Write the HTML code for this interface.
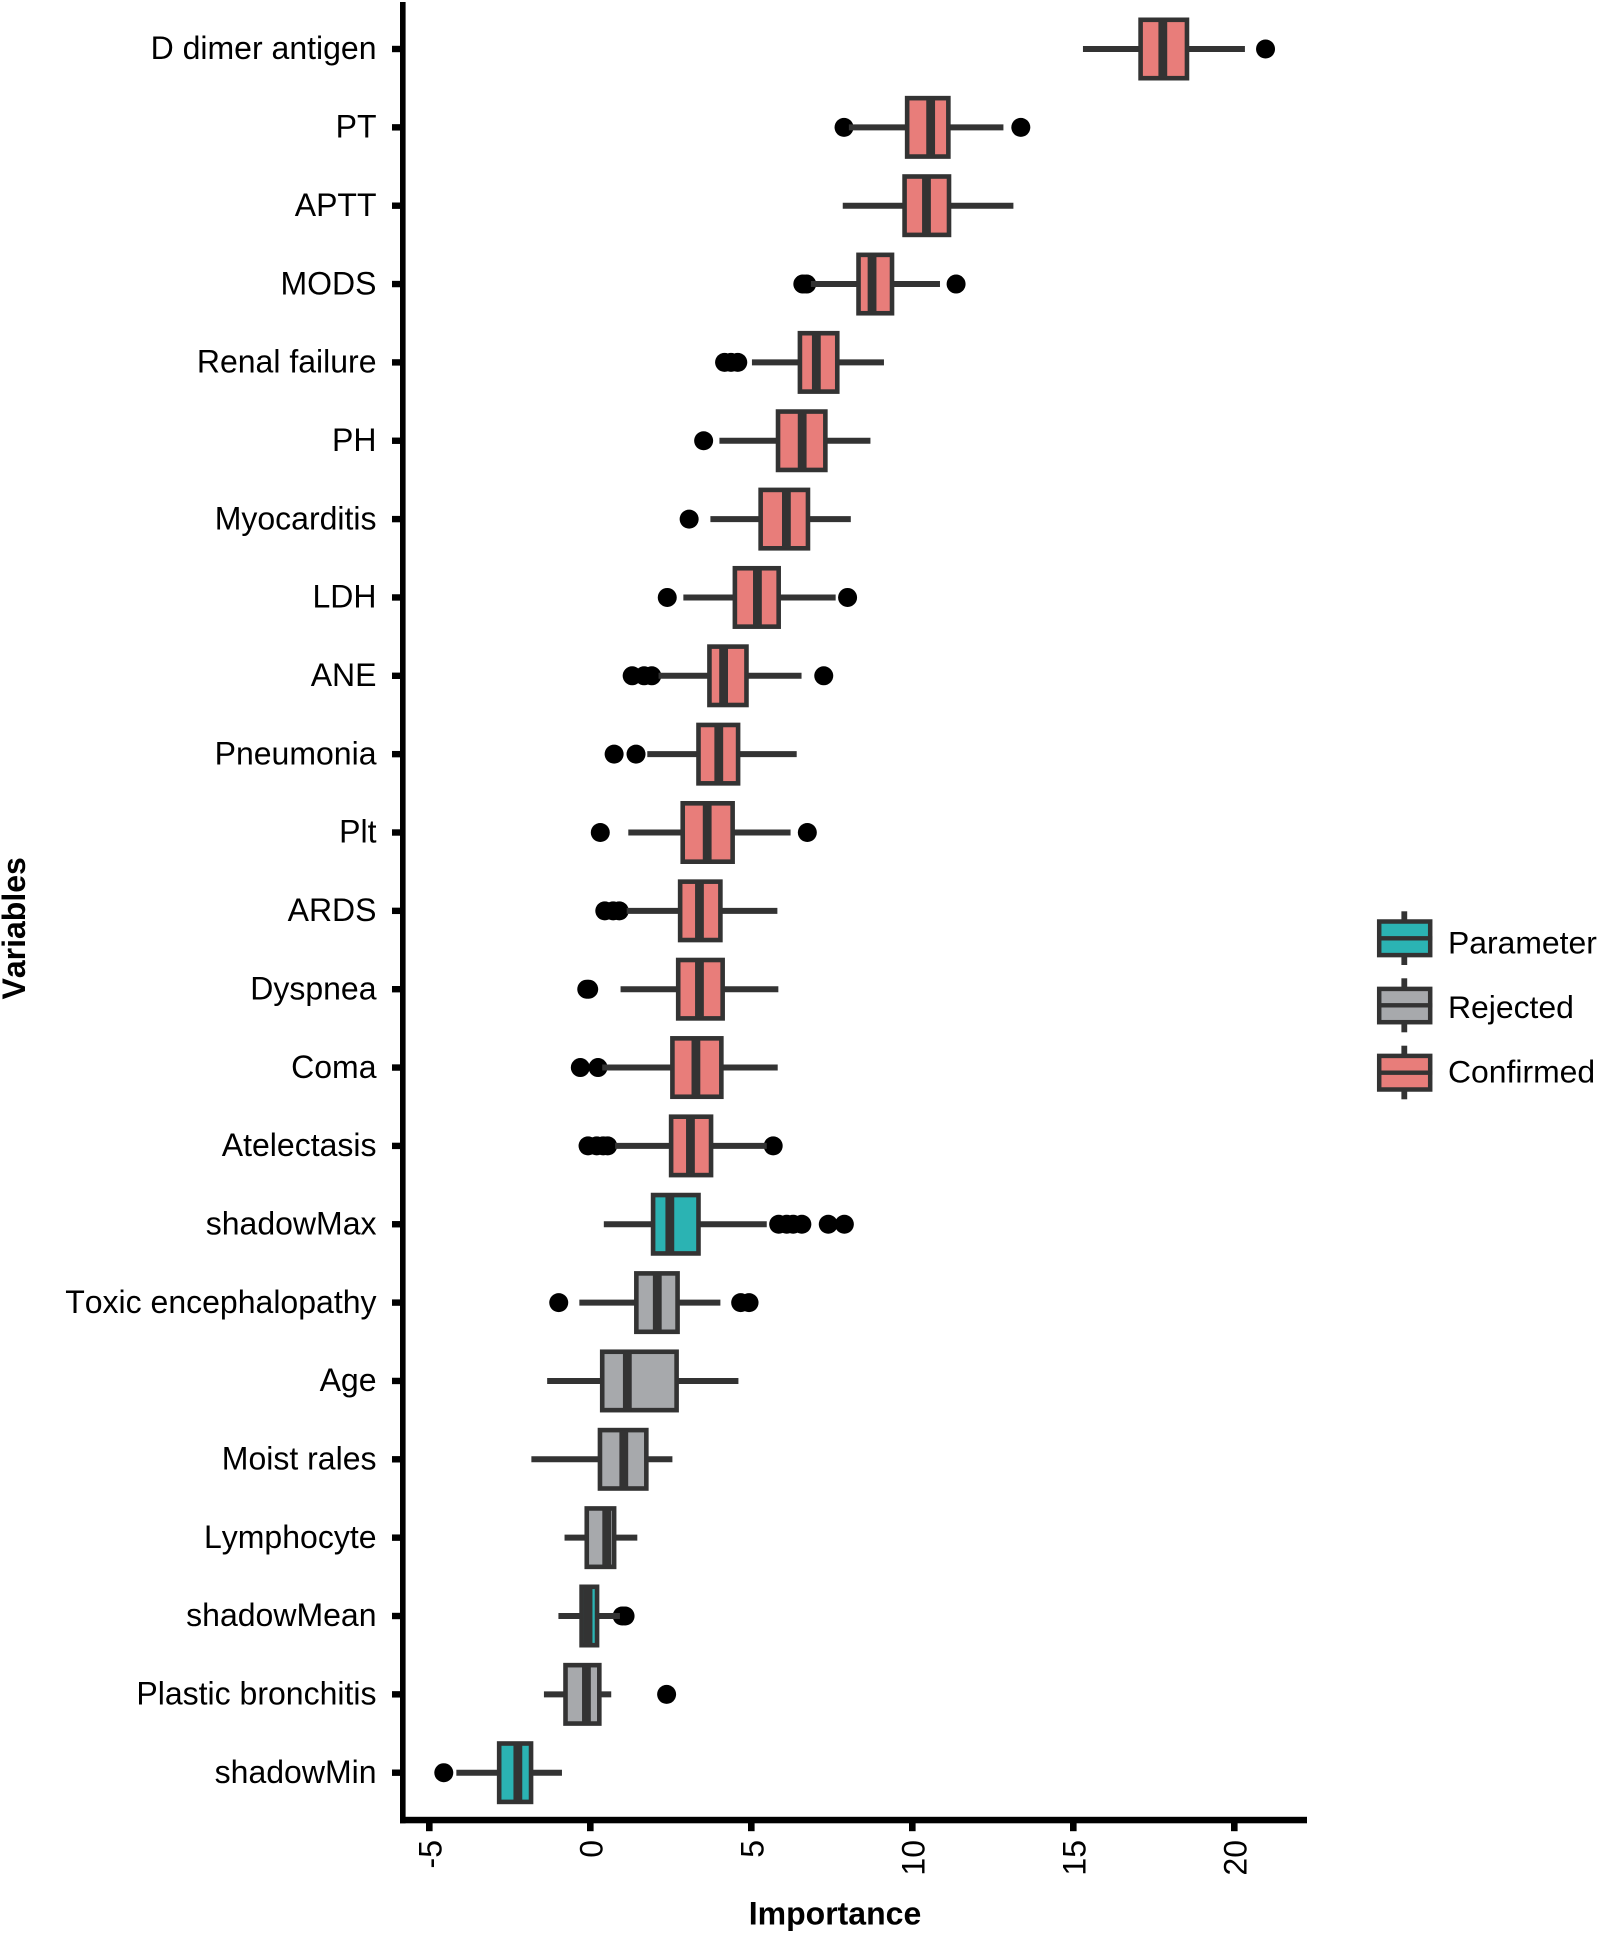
<!DOCTYPE html>
<html lang="en">
<head>
<meta charset="utf-8">
<title>Variable importance box plot</title>
<style>
  html, body { margin: 0; padding: 0; background: #ffffff; }
  svg { display: block; font-family: "Liberation Sans", Arial, sans-serif; font-kerning: none; }
</style>
</head>
<body>
<svg id="chart" xmlns="http://www.w3.org/2000/svg" width="1600" height="1933" viewBox="0 0 1600 1933">
  <rect x="0" y="0" width="1600" height="1933" fill="#ffffff"/>
  <g id="marks"></g>
  <g id="axes">
    <rect x="400" y="2" width="5.6" height="1821.3" fill="#000"/>
    <rect x="400" y="1816.8" width="907" height="6.5" fill="#000"/>
  </g>
  <text x="835" y="1924.5" text-anchor="middle" font-size="32" font-weight="bold" fill="#000">Importance</text>
  <text transform="translate(25,999.5) rotate(-90)" font-size="32" font-weight="bold" fill="#000">Variables</text>

  <g>
    <g>
      <rect x="1401.4" y="911.3" width="5.8" height="53.7" fill="#333"/>
      <rect x="1379.2" y="921.5" width="51" height="33.6" fill="#2BB3B3" stroke="#333" stroke-width="4.5"/>
      <rect x="1377" y="936.1" width="55.3" height="4.4" fill="#333"/>
      <text x="1448" y="953.3" font-size="31.9" fill="#000">Parameter</text>
    </g>
    <g>
      <rect x="1401.4" y="978.3" width="5.8" height="54" fill="#333"/>
      <rect x="1379.2" y="988.9" width="51" height="33.3" fill="#A7A9AC" stroke="#333" stroke-width="4.5"/>
      <rect x="1377" y="1003.1" width="55.3" height="4.4" fill="#333"/>
      <text x="1448" y="1017.8" font-size="31.9" fill="#000">Rejected</text>
    </g>
    <g>
      <rect x="1401.4" y="1045.7" width="5.8" height="53.6" fill="#333"/>
      <rect x="1379.2" y="1055.9" width="51" height="33.6" fill="#E87D7A" stroke="#333" stroke-width="4.5"/>
      <rect x="1377" y="1070.5" width="55.3" height="4.4" fill="#333"/>
      <text x="1448" y="1082.5" font-size="31.9" fill="#000">Confirmed</text>
    </g>
  </g>
</svg>
<script>
const categories = ["D dimer antigen","PT","APTT","MODS","Renal failure","PH","Myocarditis","LDH","ANE","Pneumonia","Plt","ARDS","Dyspnea","Coma","Atelectasis","shadowMax","Toxic encephalopathy","Age","Moist rales","Lymphocyte","shadowMean","Plastic bronchitis","shadowMin"];
const decisions = ["Confirmed","Confirmed","Confirmed","Confirmed","Confirmed","Confirmed","Confirmed","Confirmed","Confirmed","Confirmed","Confirmed","Confirmed","Confirmed","Confirmed","Confirmed","Parameter","Rejected","Rejected","Rejected","Rejected","Parameter","Rejected","Parameter"];
const whiskerLow = [15.30,8.03,7.84,6.85,5.02,4.01,3.73,2.89,2.12,1.77,1.18,1.13,0.94,0.37,0.77,0.42,-0.34,-1.34,-1.83,-0.80,-0.99,-1.44,-4.16];
const quartile1 = [17.09,9.84,9.76,8.33,6.51,5.83,5.29,4.49,3.70,3.36,2.87,2.79,2.73,2.55,2.51,1.95,1.43,0.37,0.30,-0.11,-0.27,-0.77,-2.83];
const medians = [17.78,10.57,10.44,8.75,7.02,6.58,6.09,5.19,4.14,3.99,3.63,3.39,3.39,3.28,3.11,2.47,2.08,1.15,1.04,0.51,-0.07,-0.12,-2.25];
const quartile3 = [18.53,11.12,11.14,9.37,7.67,7.30,6.76,5.85,4.85,4.59,4.42,4.04,4.11,4.07,3.75,3.36,2.71,2.68,1.74,0.74,0.21,0.28,-1.84];
const whiskerHigh = [20.33,12.83,13.14,10.86,9.12,8.70,8.09,7.62,6.56,6.41,6.22,5.81,5.84,5.82,5.48,5.48,4.04,4.60,2.55,1.46,0.92,0.65,-0.88];
const outliers = [
  [20.97],
  [7.88,13.37],
  [],
  [6.60,6.72,11.36],
  [4.17,4.37,4.58],
  [3.52],
  [3.07],
  [2.39,7.99],
  [1.30,1.67,1.91,7.25],
  [0.74,1.42],
  [0.31,6.74],
  [0.45,0.71,0.90],
  [-0.11,-0.05],
  [-0.31,0.24],
  [-0.07,0.20,0.40,0.54,5.68],
  [5.85,6.10,6.30,6.57,7.39,7.89],
  [-0.98,4.67,4.93],
  [],
  [],
  [],
  [0.99,1.08],
  [2.37],
  [-4.55]
];
const xTicks = [-5,0,5,10,15,20];
const decisionColors = { Confirmed: "#E87D7A", Rejected: "#A7A9AC", Parameter: "#2BB3B3" };

const NS = "http://www.w3.org/2000/svg";
function xScale(v) { return 590.3 + 32.2 * v; }
function yScale(i) { return 49 + 78.35 * i; }
function make(tag, parent) {
  const el = document.createElementNS(NS, tag);
  parent.appendChild(el);
  return el;
}
function slug(s) { return s.toLowerCase().replace(/\s+/g, "-"); }

const marks = document.getElementById("marks");
const axes = document.getElementById("axes");
const BOX_H = 58.4, BOX_STROKE = 4.6, MED_W = 8.8, WHISK_W = 6, DOT_R = 9.5;

categories.forEach(function (name, i) {
  const y = yScale(i);
  const g = make("g", marks);
  
  

  outliers[i].forEach(function (v) {
    const c = make("circle", g);
    c.setAttribute("cx", xScale(v));
    c.setAttribute("cy", y);
    c.setAttribute("r", DOT_R);
    c.setAttribute("fill", "#000");
    
    
  });

  const lowSeg = make("line", g);
  lowSeg.setAttribute("x1", xScale(whiskerLow[i]));
  lowSeg.setAttribute("x2", xScale(quartile1[i]));
  lowSeg.setAttribute("y1", y);
  lowSeg.setAttribute("y2", y);
  lowSeg.setAttribute("stroke", "#333");
  lowSeg.setAttribute("stroke-width", WHISK_W);
  
  

  const highSeg = make("line", g);
  highSeg.setAttribute("x1", xScale(quartile3[i]));
  highSeg.setAttribute("x2", xScale(whiskerHigh[i]));
  highSeg.setAttribute("y1", y);
  highSeg.setAttribute("y2", y);
  highSeg.setAttribute("stroke", "#333");
  highSeg.setAttribute("stroke-width", WHISK_W);
  
  

  const box = make("rect", g);
  box.setAttribute("x", xScale(quartile1[i]));
  box.setAttribute("y", y - BOX_H / 2);
  box.setAttribute("width", xScale(quartile3[i]) - xScale(quartile1[i]));
  box.setAttribute("height", BOX_H);
  box.setAttribute("fill", decisionColors[decisions[i]]);
  box.setAttribute("stroke", "#333");
  box.setAttribute("stroke-width", BOX_STROKE);
  
  

  const med = make("line", g);
  med.setAttribute("x1", xScale(medians[i]));
  med.setAttribute("x2", xScale(medians[i]));
  med.setAttribute("y1", y - BOX_H / 2);
  med.setAttribute("y2", y + BOX_H / 2);
  med.setAttribute("stroke", "#333");
  med.setAttribute("stroke-width", MED_W);
  
  

  const tick = make("rect", axes);
  tick.setAttribute("x", 392);
  tick.setAttribute("y", y - 3.2);
  tick.setAttribute("width", 9);
  tick.setAttribute("height", 6.4);
  tick.setAttribute("fill", "#000");
  
  

  const label = make("text", axes);
  label.setAttribute("x", 376.5);
  label.setAttribute("y", y + 10.2);
  label.setAttribute("text-anchor", "end");
  label.setAttribute("font-size", "32");
  label.setAttribute("fill", "#000");
  
  
  label.textContent = name;
});

xTicks.forEach(function (v) {
  const x = xScale(v);
  const tick = make("rect", axes);
  tick.setAttribute("x", x - 3.3);
  tick.setAttribute("y", 1822);
  tick.setAttribute("width", 6.6);
  tick.setAttribute("height", 9.2);
  tick.setAttribute("fill", "#000");
  
  

  const label = make("text", axes);
  label.setAttribute("transform", "translate(" + (x + 12) + ",1840) rotate(-90)");
  label.setAttribute("text-anchor", "end");
  label.setAttribute("font-size", "32");
  label.setAttribute("fill", "#000");
  
  
  label.textContent = String(v);
});
</script>
</body>
</html>
